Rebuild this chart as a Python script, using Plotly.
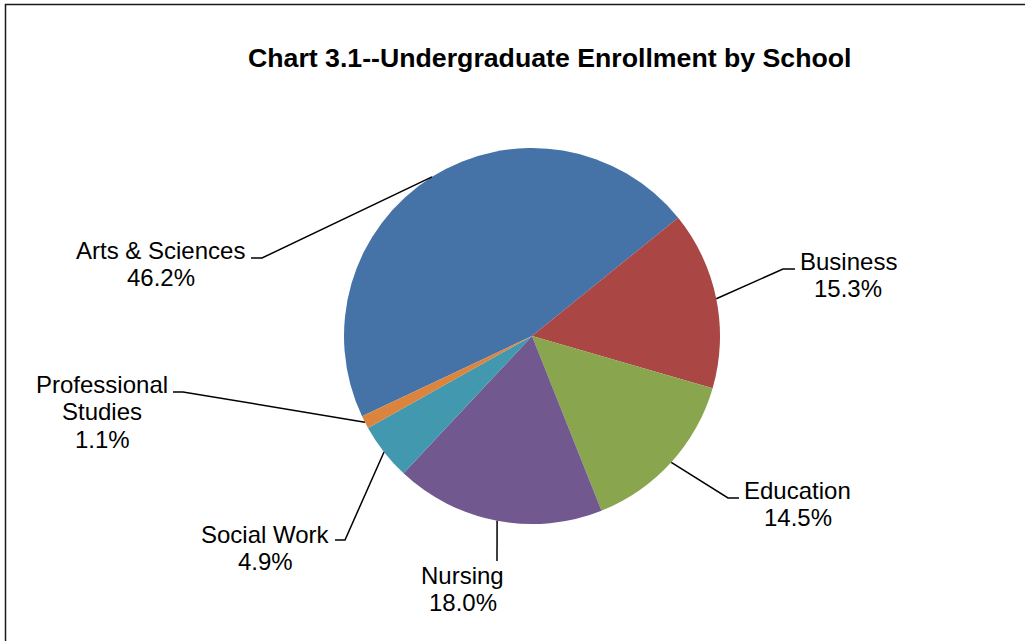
import numpy as np
import plotly.graph_objects as go

# ── Data ─────────────────────────────────────────────────────────────────────
schools = ["Arts & Sciences", "Business", "Education", "Nursing",
           "Social Work", "Professional Studies"]
shares = [46.2, 15.3, 14.5, 18.0, 4.9, 1.1]
label_lines = [["Arts & Sciences"], ["Business"], ["Education"], ["Nursing"],
               ["Social Work"], ["Professional", "Studies"]]

colors = ["#4572A7", "#AA4643", "#89A54E", "#71588F", "#4198AF", "#DB843D"]

W, H = 1025, 641
CX, CY, R = 532, 336, 188          # pie centre / radius in pixels
ROTATION = -115.3                  # start angle of first slice (clockwise from 12)
FONT = "Liberation Sans, Arial, sans-serif"
LINE_H = 27.5

# label layout: (text centre x, first line y, elbow x, elbow y, end x)
label_pos = [
    (160.5, 250, 262, 258, 251),
    (848, 261, 783, 269, 795),
    (797.5, 490, 728, 498, 739),
    (462.5, 575, 497, 561, 497),
    (265, 534, 345, 540, 335),
    (102, 384, 183, 392, 173),
]


def px(x):
    return x / W


def py(y):
    return 1 - y / H


# ── Figure ───────────────────────────────────────────────────────────────────
fig = go.Figure()

fig.add_trace(go.Pie(
    labels=schools,
    values=shares,
    sort=False,
    direction="clockwise",
    rotation=ROTATION,
    marker=dict(colors=colors, line=dict(width=0)),
    textinfo="none",
    hoverinfo="label+percent",
    showlegend=False,
    domain=dict(x=[px(CX - R), px(CX + R)], y=[py(CY + R), py(CY - R)]),
))

# ── Leader lines + labels ────────────────────────────────────────────────────
total = sum(shares)
start = ROTATION
for i, v in enumerate(shares):
    span = v / total * 360
    mid = np.radians(start + span / 2)
    start += span
    ex, ey = CX + R * np.sin(mid), CY - R * np.cos(mid)
    tx, ty, bx, by, endx = label_pos[i]
    fig.add_shape(
        type="path", xref="paper", yref="paper",
        path=f"M {px(ex)},{py(ey)} L {px(bx)},{py(by)} L {px(endx)},{py(by)}",
        line=dict(color="black", width=1.5),
    )
    lines = label_lines[i] + [f"{v:.1f}%"]
    for k, t in enumerate(lines):
        fig.add_annotation(
            xref="paper", yref="paper",
            x=px(tx), y=py(ty + k * LINE_H),
            text=t, showarrow=False,
            xanchor="center", yanchor="middle",
            font=dict(family=FONT, size=24, color="black"),
        )

# ── Title ────────────────────────────────────────────────────────────────────
fig.add_annotation(
    xref="paper", yref="paper",
    x=px(549.5), y=py(58),
    text="<b>Chart 3.1--Undergraduate Enrollment by School</b>",
    showarrow=False, xanchor="center", yanchor="middle",
    font=dict(family=FONT, size=26.7, color="black"),
)

# chart-area frame (runs off the right / bottom edge)
fig.add_shape(
    type="rect", xref="paper", yref="paper",
    x0=px(5.5), x1=1.02, y0=-0.02, y1=py(4.5),
    line=dict(color="#1a1a1a", width=1.5),
)

# ── Layout ───────────────────────────────────────────────────────────────────
fig.update_layout(
    width=W, height=H,
    margin=dict(l=0, r=0, t=0, b=0),
    paper_bgcolor="white",
    plot_bgcolor="white",
)

# drop the default page margin so the figure sits at the window's top-left
fig.write_html("out.html", config={"displayModeBar": False},
               post_script="document.body.style.margin = '0';")
